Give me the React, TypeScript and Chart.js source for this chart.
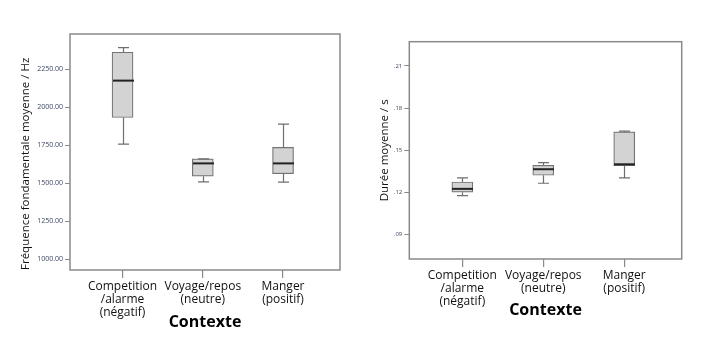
import { useEffect, useRef } from "react";
import { Chart, registerables } from "chart.js";
Chart.register(...registerables);

const categories: string[][] = [
  ["Competition", "/alarme", "(négatif)"],
  ["Voyage/repos", "(neutre)"],
  ["Manger", "(positif)"],
];

const freqMin = [1757, 1508, 1506];
const freqQ1 = [1932, 1546, 1562];
const freqMedian = [2175, 1630, 1630];
const freqQ3 = [2362, 1660, 1735];
const freqMax = [2392, 1660, 1888];
const freqTicks = [1000, 1250, 1500, 1750, 2000, 2250];

const durMin = [0.1176, 0.1264, 0.1302];
const durQ1 = [0.12, 0.1321, 0.1389];
const durMedian = [0.1224, 0.1364, 0.1399];
const durQ3 = [0.1273, 0.1392, 0.163];
const durMax = [0.1302, 0.1411, 0.1635];
const durTicks = [0.09, 0.12, 0.15, 0.18, 0.21];

const FONT = "'Open Sans', 'Noto Sans', sans-serif";

type Spec = {
  mins: number[];
  q1: number[];
  med: number[];
  q3: number[];
  maxs: number[];
  ticks: number[];
  yMin: number;
  yMax: number;
  yTitle: string;
  yTitleAlign: "start" | "center";
  yTitlePad: number;
  yWidth: number;
  xHeight: number;
  padding: { top: number; right: number; bottom: number; left: number };
  fmt: (v: number) => string;
  tickFont: number;
};

function makeConfig(s: Spec): any {
  const boxPlugin = {
    id: "boxWhiskers",
    afterDatasetsDraw(chart: any) {
      const ctx = chart.ctx;
      const xs = chart.scales.x;
      const ys = chart.scales.y;
      const ca = chart.chartArea;
      ctx.save();
      s.mins.forEach((_, i) => {
        const x = Math.round(xs.getPixelForValue(i + 1)) + 0.5;
        const yMin = ys.getPixelForValue(s.mins[i]);
        const yQ1 = ys.getPixelForValue(s.q1[i]);
        const yQ3 = ys.getPixelForValue(s.q3[i]);
        const yMax = ys.getPixelForValue(s.maxs[i]);
        ctx.strokeStyle = "#6e6e6e";
        ctx.lineWidth = 1.2;
        ctx.beginPath();
        ctx.moveTo(x, yMin);
        ctx.lineTo(x, yQ1);
        ctx.moveTo(x, yQ3);
        ctx.lineTo(x, yMax);
        ctx.moveTo(x - 5.5, yMin);
        ctx.lineTo(x + 5.5, yMin);
        ctx.moveTo(x - 5.5, yMax);
        ctx.lineTo(x + 5.5, yMax);
        ctx.stroke();
        const yMed = ys.getPixelForValue(s.med[i]);
        ctx.strokeStyle = "#222222";
        ctx.lineWidth = 2;
        ctx.beginPath();
        ctx.moveTo(x - 10.5, yMed);
        ctx.lineTo(x + 10.5, yMed);
        ctx.stroke();
      });
      ctx.strokeStyle = "#8a8a8a";
      ctx.lineWidth = 1.5;
      ctx.strokeRect(ca.left, ca.top, ca.right - ca.left, ca.bottom - ca.top);
      ctx.restore();
    },
  };

  return {
    type: "bar",
    data: {
      datasets: [
        {
          data: s.q1.map((v, i) => ({ x: i + 1, y: [v, s.q3[i]] })),
          backgroundColor: "#d3d3d3",
          borderColor: "#737373",
          borderWidth: 1.2,
          borderSkipped: false,
          barThickness: 21,
        },
      ],
    },
    options: {
      responsive: false,
      animation: false,
      devicePixelRatio: 1,
      layout: { padding: s.padding },
      plugins: { legend: { display: false }, tooltip: { enabled: false } },
      scales: {
        x: {
          type: "linear",
          offset: false,
          min: 0.345,
          max: 3.71,
          afterBuildTicks: (scale: any) => {
            scale.ticks = categories.map((_, i) => ({ value: i + 1 }));
          },
          afterFit: (scale: any) => {
            scale.height = s.xHeight;
          },
          border: { display: false },
          grid: {
            display: true,
            offset: false,
            drawOnChartArea: false,
            drawTicks: true,
            tickLength: 8,
            color: "#8a8a8a",
            lineWidth: 1.2,
          },
          ticks: {
            autoSkip: false,
            maxRotation: 0,
            padding: 2,
            color: "#111111",
            font: { family: FONT, size: 12, lineHeight: 1.1 },
            callback: (v: number) => categories[Math.round(v) - 1] ?? "",
          },
          title: {
            display: true,
            text: "Contexte",
            color: "#000000",
            padding: { top: 0, bottom: 0 },
            font: { family: FONT, size: 16, weight: "bold" },
          },
        },
        y: {
          type: "linear",
          min: s.yMin,
          max: s.yMax,
          afterBuildTicks: (scale: any) => {
            scale.ticks = s.ticks.map((v) => ({ value: v }));
          },
          afterFit: (scale: any) => {
            scale.width = s.yWidth;
          },
          border: { display: false },
          grid: {
            display: true,
            drawOnChartArea: false,
            drawTicks: true,
            tickLength: 5,
            color: "#8a8a8a",
            lineWidth: 1,
          },
          ticks: {
            padding: 2,
            color: "#3e4660",
            font: { family: FONT, size: s.tickFont },
            callback: (v: number) => s.fmt(v),
          },
          title: {
            display: true,
            text: s.yTitle,
            align: s.yTitleAlign,
            color: "#111111",
            padding: { top: s.yTitlePad, bottom: 0 },
            font: { family: FONT, size: 11.5 },
          },
        },
      },
    },
    plugins: [boxPlugin],
  };
}

const leftSpec: Spec = {
  mins: freqMin,
  q1: freqQ1,
  med: freqMedian,
  q3: freqQ3,
  maxs: freqMax,
  ticks: freqTicks,
  yMin: 928,
  yMax: 2482,
  yTitle: "Fréquence fondamentale moyenne / Hz",
  yTitleAlign: "start",
  yTitlePad: 19,
  yWidth: 70,
  xHeight: 62,
  padding: { top: 34, right: 20, bottom: 25, left: 0 },
  fmt: (v) => Number(v).toFixed(2),
  tickFont: 7,
};

const rightSpec: Spec = {
  mins: durMin,
  q1: durQ1,
  med: durMedian,
  q3: durQ3,
  maxs: durMax,
  ticks: durTicks,
  yMin: 0.0724,
  yMax: 0.2273,
  yTitle: "Durée moyenne / s",
  yTitleAlign: "center",
  yTitlePad: 18,
  yWidth: 49.3,
  xHeight: 60.6,
  padding: { top: 41.7, right: 38.3, bottom: 37.4, left: 0 },
  fmt: (v) => Number(v).toFixed(2).replace(/^0/, ""),
  tickFont: 6,
};

function BoxChart({ spec, left }: { spec: Spec; left: number }) {
  const ref = useRef<HTMLCanvasElement | null>(null);
  useEffect(() => {
    if (!ref.current) return;
    const chart = new Chart(ref.current, makeConfig(spec));
    return () => chart.destroy();
  }, [spec]);
  return (
    <canvas
      ref={ref}
      width={360}
      height={357}
      style={{ position: "absolute", left, top: 0, width: 360, height: 357 }}
    />
  );
}

export default function App() {
  return (
    <div
      style={{
        position: "fixed",
        left: 0,
        top: 0,
        width: 720,
        height: 357,
        background: "#ffffff",
      }}
    >
      <BoxChart spec={leftSpec} left={0} />
      <BoxChart spec={rightSpec} left={360} />
    </div>
  );
}
